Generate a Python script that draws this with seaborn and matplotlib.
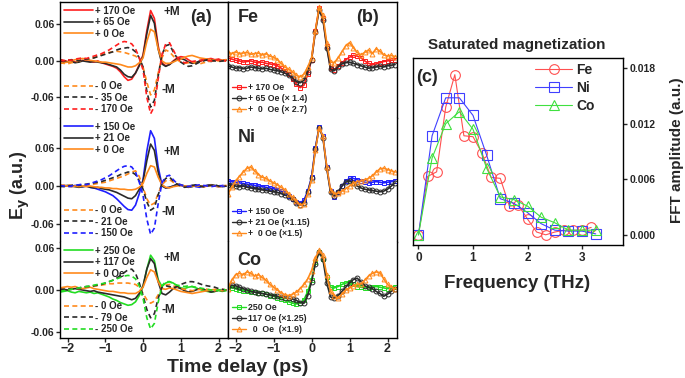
import numpy as np
import matplotlib
matplotlib.use("Agg")
import matplotlib.pyplot as plt
import seaborn as sns
from matplotlib.lines import Line2D

sns.set_style("ticks")
plt.rcParams["font.family"] = ["Liberation Sans", "DejaVu Sans"]
plt.rcParams["font.weight"] = "bold"
plt.rcParams["axes.labelweight"] = "bold"

# time delay of the THz traces (ps), one sample every 0.1 ps
t = np.round(np.linspace(-2.2, 2.2, 45), 2)

# panel (a) traces, values in 1e-3 a.u.
fe_pos170 = [2, 1, -1, 0, -2, -1, 1, 0, -1, -2, 0, -3, -5, -7, -9,
             -12, -18, -26, -32, -30, -20, -6, 10, 50, 83, 70, 25, -3, -8, -6,
             0, 5, 7, 6, 2, -2, -3, -1, 1, 3, 4, 2, 3, 1, 2]
fe_pos65 = [1, 0, -2, -1, -3, -2, 0, -1, -2, -1, -2, -3, -4, -6, -8,
            -10, -15, -22, -26, -27, -20, -8, 8, 45, 75, 62, 20, -5, -9, -6,
            -1, 3, 4, 2, -2, -4, -3, 0, 2, 1, -1, 1, 2, 0, 1]
fe_pos0 = [-4, -3, -2, 0, 2, 3, 4, 3, 1, 0, -1, -2, -2, -3, -4,
           -5, -6, -8, -10, -10, -8, -3, 5, 32, 52, 48, 20, 0, -4, -4,
           -2, 1, 3, 6, 8, 9, 7, 5, 4, 3, 2, 1, 2, 1, 2]
fe_neg0 = [-3, -4, -5, -3, -2, 0, 1, 2, 3, 5, 8, 10, 12, 14, 15,
           16, 15, 14, 12, 10, 8, 3, -10, -35, -56, -48, -20, 5, 18, 15,
           8, 2, -2, -4, -3, -2, -4, -5, -3, -2, 0, 1, 0, -1, 0]
fe_neg35 = [0, -1, 1, 2, 1, 0, 2, 3, 4, 5, 7, 9, 11, 13, 15,
            18, 20, 21, 22, 20, 15, 5, -10, -50, -76, -65, -25, 10, 25, 27,
            15, 5, -2, -6, -9, -8, -5, -2, 0, 2, 1, 0, -1, 0, 1]
fe_neg170 = [1, 0, 2, 1, 3, 4, 5, 4, 6, 8, 10, 12, 15, 18, 22,
             26, 30, 32, 31, 28, 20, 5, -15, -60, -87, -75, -30, 10, 28, 30,
             18, 6, -1, -3, -2, -1, 0, 1, 2, 1, 0, 1, 2, 1, 0]

ni_pos150 = [0, 1, 0, -1, 1, 0, -1, 0, -2, -3, -5, -7, -9, -12, -15,
             -20, -26, -32, -37, -38, -30, -12, 10, 55, 87, 75, 30, 2, -3, -2,
             0, 2, 1, -1, 0, 1, -1, -2, 0, 1, 2, 0, -1, 1, 0]
ni_pos21 = [-1, 0, 1, 0, -1, -2, -1, 0, -2, -3, -2, -4, -5, -6, -8,
            -10, -13, -16, -19, -20, -15, -5, 8, 40, 66, 56, 22, 0, -3, -2,
            0, 3, 2, 0, -2, -1, 1, 0, -1, 1, 2, 1, 0, -1, 0]
ni_pos0 = [2, 1, 0, -1, 0, 1, 0, -1, 0, -1, -2, -2, -3, -3, -4,
           -4, -5, -5, -6, -6, -5, -2, 4, 20, 32, 30, 14, 2, -2, -3,
           -1, 0, 1, 0, -1, 0, 1, 0, -1, 0, 1, 0, -1, 0, 1]
ni_neg0 = [0, 1, 2, 1, 0, -1, 0, 1, 2, 3, 4, 5, 6, 8, 10,
           12, 14, 16, 19, 22, 24, 15, -2, -20, -30, -27, -12, 2, 8, 10,
           6, 3, 1, 0, -1, 0, 1, 0, -1, 0, 1, 0, -1, 0, 1]
ni_neg21 = [0, -1, 0, 1, 2, 1, 2, 3, 4, 5, 6, 7, 9, 11, 13,
            15, 18, 20, 22, 22, 18, 8, -5, -25, -38, -34, -14, 4, 12, 14,
            8, 3, 0, -2, -1, 1, 2, 0, -1, 0, 1, 2, 0, -1, 0]
ni_neg150 = [1, 0, -1, 0, 1, 2, 3, 2, 4, 6, 8, 10, 13, 16, 20,
             24, 28, 31, 32, 30, 22, 6, -15, -52, -76, -66, -28, 5, 15, 17,
             10, 4, 2, 0, -1, 0, 1, 2, 1, 0, -1, 0, 1, 0, -1]

co_pos250 = [-3, -2, -1, -3, -4, -2, -3, -4, -3, -5, -4, -6, -8, -10, -13,
             -15, -18, -20, -22, -21, -17, -8, 5, 30, 50, 42, 15, 5, 10, 12,
             10, 6, 3, 2, 4, 5, 3, 1, -1, -2, -3, -2, -1, -2, -1]
co_pos117 = [2, 1, 0, 1, 2, 1, 0, -1, -2, -1, -3, -4, -5, -6, -7,
             -8, -9, -10, -12, -14, -12, -5, 6, 30, 45, 38, 12, -5, -7, -3,
             2, 4, 2, -1, -3, -2, 0, 2, 1, -1, -3, -2, 0, -1, 0]
co_pos0 = [3, 4, 5, 4, 5, 3, 2, 3, 4, 2, 1, 0, -1, -2, -2,
           -3, -4, -4, -5, -5, -5, -2, 4, 18, 29, 26, 12, 2, 1, 3,
           2, 0, -2, -3, -4, -5, -4, -3, -2, -1, 0, 1, 0, -1, 0]
co_neg0 = [0, 1, 0, 2, 3, 2, 3, 4, 5, 6, 6, 7, 8, 9, 9,
           10, 10, 10, 10, 9, 8, 4, -5, -14, -19, -16, -7, 3, 7, 8,
           6, 4, 2, 1, 0, -1, 0, 1, 2, 1, 0, -1, 0, 1, 0]
co_neg79 = [0, 1, 2, 1, 2, 3, 4, 5, 5, 6, 7, 8, 10, 12, 14,
            17, 21, 25, 29, 30, 24, 10, -8, -28, -40, -34, -12, 4, 6, 5,
            3, 5, 8, 10, 12, 12, 11, 9, 7, 6, 5, 4, 2, 1, 0]
co_neg250 = [-2, -1, 0, 1, 2, 3, 4, 5, 6, 7, 8, 9, 10, 12, 14,
             16, 18, 20, 21, 20, 16, 6, -12, -40, -56, -48, -18, 6, 12, 12,
             9, 7, 6, 5, 6, 5, 4, 3, 2, 1, 0, -1, 0, 1, 0]

# panel (b) scaled traces, 1e-3 a.u.
fe_b170 = [5, 3, 1, 0, -2, -1, 0, -2, -3, -2, -4, -5, -6, -8, -12,
           -16, -22, -30, -38, -44, -40, -22, 2, 50, 87, 70, 25, -12, -15, -8,
           -3, 2, 6, 9, 8, 5, 0, -4, -6, -5, -3, -1, 0, 1, 2]
fe_b65 = [-8, -10, -12, -11, -13, -12, -10, -11, -12, -13, -12, -14, -15, -16, -18,
          -20, -24, -28, -34, -36, -32, -18, 2, 48, 84, 68, 22, -14, -16, -10,
          -5, -3, -2, -4, -6, -8, -10, -12, -11, -10, -9, -10, -8, -7, -6]
fe_b0 = [14, 12, 15, 12, 13, 14, 11, 12, 13, 10, 12, 8, 6, 2, -4,
         -10, -14, -18, -24, -26, -22, -10, 5, 50, 88, 75, 30, -2, -3, 5,
         15, 25, 30, 22, 14, 10, 14, 18, 12, 20, 16, 10, 8, 9, 7]
ni_b150 = [8, 7, 6, 5, 4, 3, 2, 1, 0, -1, -2, -3, -4, -6, -8,
           -11, -15, -20, -25, -27, -22, -8, 14, 60, 93, 78, 30, -8, -17, -10,
           0, 8, 12, 12, 10, 8, 6, 5, 6, 7, 6, 5, 6, 7, 8]
ni_b21 = [2, 1, 0, -1, 0, -2, -3, -4, -5, -6, -7, -8, -9, -10, -12,
          -14, -17, -21, -27, -30, -26, -10, 12, 58, 92, 76, 28, -10, -16, -9,
          0, 6, 8, 5, 0, -3, -5, -6, -7, -8, -9, -8, -5, 0, 5]
ni_b0 = [-12, -2, 8, 15, 22, 28, 30, 24, 18, 14, 12, 8, 5, 2, -2,
         -6, -12, -18, -24, -30, -28, -12, 10, 56, 92, 78, 30, -6, -12, -11,
         -8, -4, 0, 4, 7, 8, 10, 12, 16, 22, 27, 28, 26, 24, 22]
co_b250 = [4, 3, 2, 0, -1, -2, -3, -3, -4, -5, -6, -8, -9, -11, -13,
           -15, -17, -19, -20, -19, -14, -2, 14, 40, 55, 45, 18, 4, 3, 5,
           8, 10, 11, 8, 5, 4, 3, 3, 4, 5, 4, 3, 2, 3, 4]
co_b117 = [6, 7, 6, 4, 2, 0, -2, -3, -4, -5, -6, -7, -8, -9, -10,
           -11, -12, -13, -15, -18, -19, -8, 12, 38, 55, 44, 10, -10, -12, -8,
           -2, 4, 10, 15, 17, 12, 6, 4, 2, -2, -5, -9, -6, -2, 2]
co_b0 = [2, 14, 22, 24, 22, 26, 24, 20, 22, 18, 14, 8, 4, 0, -4,
         -7, -8, -6, -3, 2, 8, 16, 28, 46, 57, 50, 22, -2, -8, -12,
         -6, 0, 3, 6, 8, 9, 14, 20, 24, 26, 25, 16, 8, 4, 2]

# panel (c) FFT spectra
fe_freq = [0, 0.167, 0.333, 0.5, 0.667, 0.833, 1.0, 1.167, 1.333, 1.5,
           1.667, 1.833, 2.0, 2.167, 2.333, 2.5, 2.667, 2.833, 3.0, 3.167]
fe_fft = [0.0, 0.0063, 0.0068, 0.0138, 0.0173, 0.0107, 0.0106, 0.0088, 0.0062, 0.0061,
          0.0031, 0.0032, 0.0017, 0.0003, 0.0000, 0.0003, 0.0005, 0.0005, 0.0005, 0.0008]
nico_freq = [0, 0.25, 0.5, 0.75, 1.0, 1.25, 1.5, 1.75, 2.0, 2.25, 2.5, 2.75, 3.0, 3.25]
ni_fft = [0.0, 0.0107, 0.0148, 0.0148, 0.0129, 0.0086, 0.0039, 0.0034, 0.0024, 0.0012,
          0.0005, 0.0004, 0.0004, 0.0001]
co_fft = [0.0, 0.0083, 0.0120, 0.0133, 0.0114, 0.0072, 0.0041, 0.0038, 0.0031, 0.0019,
          0.0013, 0.0005, 0.0005, 0.0005]

RED, BLK, ORG, BLU, GRN = "#ff1f1f", "#2a2a2a", "#ff8a1c", "#1f1fff", "#22dd22"
DASH = (0, (3, 2))

W, H = 685, 378
fig = plt.figure(figsize=(W / 100, H / 100), dpi=100)


def box(x0, y0, x1, y1):
    return [x0 / W, 1 - y1 / H, (x1 - x0) / W, (y1 - y0) / H]


def trace(ax, y, color, ls="-", marker=None, lw=1.2):
    kw = dict(x=t, y=np.array(y) / 1000.0, ax=ax, color=color, lw=lw,
              linestyle=ls, errorbar=None, legend=False)
    if marker:
        kw.update(marker=marker, ms=3.5, mfc="none", mec=color, mew=0.7)
    sns.lineplot(**kw)


rows = [
    dict(ypix=(2, 118), ylim=(-0.094, 0.097), name="Fe",
         pos=[(fe_pos170, RED, "+ 170 Oe"), (fe_pos65, BLK, "+ 65 Oe"), (fe_pos0, ORG, "+ 0 Oe")],
         neg=[(fe_neg0, ORG, "- 0 Oe"), (fe_neg35, BLK, "- 35 Oe"), (fe_neg170, RED, "- 170 Oe")],
         b=[(fe_b170, RED, "s", "+ 170 Oe"), (fe_b65, BLK, "o", "+ 65 Oe (× 1.4)"),
            (fe_b0, ORG, "^", "+  0  Oe (× 2.7)")],
         pm=(0.08, -0.048), lab_y=0.072),
    dict(ypix=(118, 242), ylim=(-0.088, 0.107), name="Ni",
         pos=[(ni_pos150, BLU, "+ 150 Oe"), (ni_pos21, BLK, "+ 21 Oe"), (ni_pos0, ORG, "+ 0 Oe")],
         neg=[(ni_neg0, ORG, "- 0 Oe"), (ni_neg21, BLK, "- 21 Oe"), (ni_neg150, BLU, "- 150 Oe")],
         b=[(ni_b150, BLU, "s", "+ 150 Oe"), (ni_b21, BLK, "o", "+ 21 Oe (×1.15)"),
            (ni_b0, ORG, "^", "+  0 Oe (×1.5)")],
         pm=(0.054, -0.041), lab_y=0.076),
    dict(ypix=(242, 338), ylim=(-0.069, 0.069), name="Co",
         pos=[(co_pos250, GRN, "+ 250 Oe"), (co_pos117, BLK, "+ 117 Oe"), (co_pos0, ORG, "+ 0 Oe")],
         neg=[(co_neg0, ORG, "- 0 Oe"), (co_neg79, BLK, "- 79 Oe"), (co_neg250, GRN, "- 250 Oe")],
         b=[(co_b250, GRN, "s", "250 Oe"), (co_b117, BLK, "o", "117 Oe (×1.25)"),
            (co_b0, ORG, "^", "  0  Oe  (×1.9)")],
         pm=(0.046, -0.029), lab_y=0.043),
]

for r, row in enumerate(rows):
    y0, y1 = row["ypix"]
    ax_a = fig.add_axes(box(60, y0, 228, y1))
    ax_b = fig.add_axes(box(228, y0, 397, y1))
    for y, c, _ in row["pos"]:
        trace(ax_a, y, c)
    for y, c, _ in row["neg"]:
        trace(ax_a, y, c, ls=DASH)
    for y, c, m, _ in row["b"]:
        trace(ax_b, y, c, marker=m)

    for ax in (ax_a, ax_b):
        ax.set_xlim(-2.2, 2.25)
        ax.set_ylim(*row["ylim"])
        ax.set_xlabel("")
        ax.set_ylabel("")
        for s in ax.spines.values():
            s.set_linewidth(1.0)
            s.set_color("black")
        if r > 0:
            ax.spines["top"].set_visible(False)
        if r < 2:
            ax.spines["bottom"].set_linestyle((0, (1, 1.5)))
            ax.spines["bottom"].set_linewidth(0.7)
            ax.set_xticks([])
        else:
            ax.set_xticks([-2, -1, 0, 1, 2])
            ax.tick_params(axis="x", labelsize=9, length=3, width=1, pad=0.5)
    ax_a.set_yticks([-0.06, 0.0, 0.06])
    ax_a.set_yticklabels(["-0.06", "0.00", "0.06"])
    ax_a.tick_params(axis="y", labelsize=7.5, length=3, width=1, pad=1)
    ax_b.set_yticks([])

    h_pos = [Line2D([], [], color=c, lw=1.2) for _, c, _ in row["pos"]]
    h_neg = [Line2D([], [], color=c, lw=1.2, ls=DASH) for _, c, _ in row["neg"]]
    leg_kw = dict(frameon=False, fontsize=7, handlelength=3.0, handletextpad=0.2,
                  labelspacing=0.15, borderaxespad=0.2, borderpad=0.2)
    l1 = ax_a.legend(h_pos, [lab for _, _, lab in row["pos"]], loc="upper left", **leg_kw)
    ax_a.add_artist(l1)
    ax_a.legend(h_neg, [lab for _, _, lab in row["neg"]], loc="lower left", **leg_kw)

    h_b = [Line2D([], [], color=c, lw=1.0, marker=m, ms=3.5, mfc="none", mec=c, mew=0.7)
           for _, c, m, _ in row["b"]]
    ax_b.legend(h_b, [lab for _, _, _, lab in row["b"]], loc="lower left", frameon=False,
                fontsize=6.3, handlelength=1.6, handletextpad=0.3, labelspacing=0.25,
                borderaxespad=0.2, borderpad=0.2)

    ax_a.text(0.53, row["pm"][0], "+M", fontsize=8.5, va="center", ha="left")
    ax_a.text(0.5, row["pm"][1], "-M", fontsize=8.5, va="center", ha="left")
    ax_b.text(-1.95, row["lab_y"], row["name"], fontsize=13, va="center", ha="left")
    if r == 0:
        ax_a.text(1.25, 0.072, "(a)", fontsize=13, va="center", ha="left")
        ax_b.text(1.18, 0.072, "(b)", fontsize=13, va="center", ha="left")

fig.text(20 / W, 1 - 185 / H, "E$_\\mathbf{y}$ (a.u.)", rotation=90, fontsize=13,
         ha="center", va="center")
fig.text(238 / W, 1 - 367 / H, "Time delay (ps)", fontsize=14, ha="center", va="center")

# panel (c)
ax_c = fig.add_axes(box(413, 58, 623, 245))
spectra = [(fe_freq, fe_fft, "#ff5050", "o", "Fe"),
           (nico_freq, ni_fft, "#4040ff", "s", "Ni"),
           (nico_freq, co_fft, "#40e040", "^", "Co")]
for fx, fy, c, m, lab in spectra:
    sns.lineplot(x=fx, y=fy, ax=ax_c, color=c, lw=0.8, marker=m, ms=7, mfc="none",
                 mec=c, mew=0.8, errorbar=None, label=lab)
ax_c.set_xlim(-0.1, 3.75)
ax_c.set_ylim(-0.0011, 0.0191)
ax_c.yaxis.tick_right()
ax_c.set_yticks([0.0, 0.006, 0.012, 0.018])
ax_c.set_yticklabels(["0.000", "0.006", "0.012", "0.018"])
ax_c.set_xticks([0, 1, 2, 3])
ax_c.tick_params(axis="y", labelsize=7.5, length=3, width=1, pad=2)
ax_c.tick_params(axis="x", labelsize=8.5, length=3, width=1, pad=2)
ax_c.set_xlabel("")
ax_c.set_ylabel("")
for s in ax_c.spines.values():
    s.set_visible(True)
    s.set_linewidth(1.0)
    s.set_color("black")
ax_c.legend(loc="upper left", bbox_to_anchor=(0.58, 0.975), frameon=False, fontsize=10,
            handlelength=2.7, handletextpad=0.3, labelspacing=0.3, borderaxespad=0,
            borderpad=0)
ax_c.text(-0.05, 0.0170, "(c)", fontsize=13, va="center", ha="left")

fig.text(517 / W, 1 - 45 / H, "Saturated magnetization", fontsize=11, ha="center", va="center")
fig.text(677 / W, 1 - 150 / H, "FFT amplitude (a.u.)", rotation=90, fontsize=11,
         ha="center", va="center")
fig.text(517 / W, 1 - 283 / H, "Frequency (THz)", fontsize=13.5, ha="center", va="center")

fig.savefig("out.png", dpi=100)
